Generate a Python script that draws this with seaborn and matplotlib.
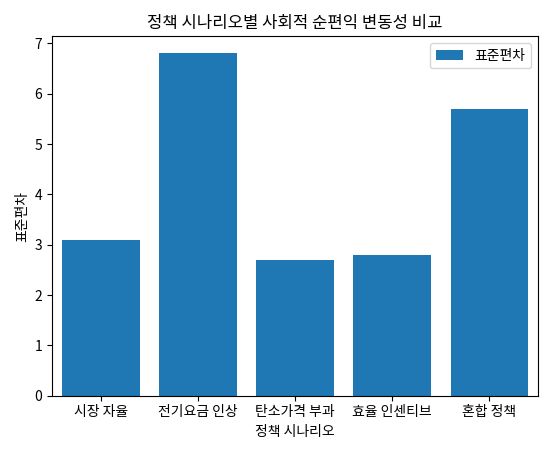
import matplotlib
matplotlib.use("Agg")
import matplotlib.pyplot as plt
import seaborn as sns
import pandas as pd

plt.rcParams['font.family'] = ['Noto Sans CJK KR', 'DejaVu Sans']
plt.rcParams['axes.unicode_minus'] = False

scenarios = ["시장 자율", "전기요금 인상", "탄소가격 부과", "효율 인센티브", "혼합 정책"]
std_values = [3.1, 6.8, 2.7, 2.8, 5.7]

df = pd.DataFrame({"시나리오": scenarios, "표준편차": std_values})

fig, ax = plt.subplots(figsize=(5.53, 4.54), dpi=100)
sns.barplot(data=df, x="시나리오", y="표준편차", color="#1f77b4", saturation=1,
            width=0.8, label="표준편차", ax=ax)
ax.set_title("정책 시나리오별 사회적 순편익 변동성 비교")
ax.set_xlabel("정책 시나리오")
ax.set_ylabel("표준편차")
ax.legend(loc="upper right")
fig.tight_layout()
fig.savefig("out.png", dpi=100)
